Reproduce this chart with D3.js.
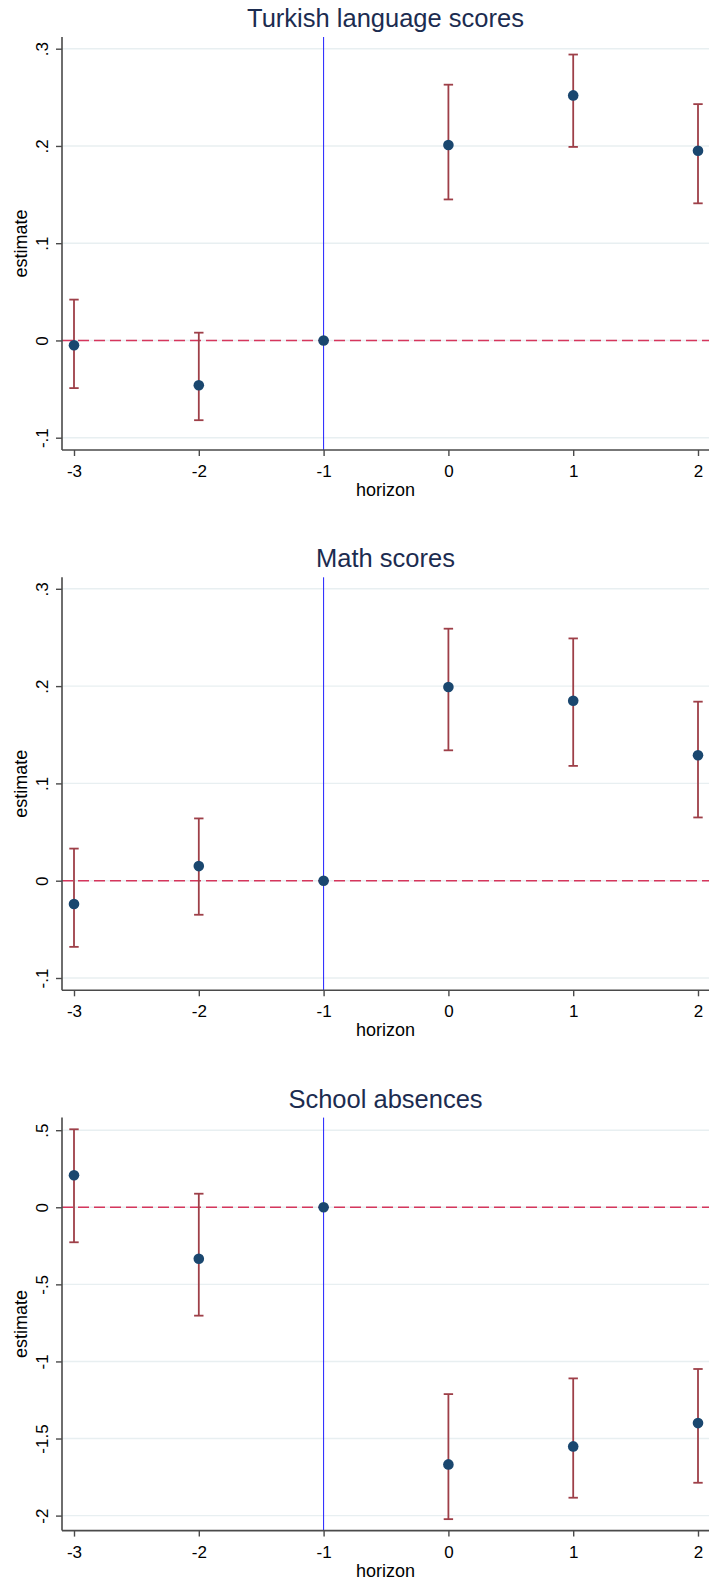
<!DOCTYPE html>
<html>
<head>
<meta charset="utf-8">
<script src="https://cdn.jsdelivr.net/npm/d3@7"></script>
<style>
  body { margin: 0; background: #fff; }
  svg { display: block; font-family: "Liberation Sans", Arial, sans-serif; }
</style>
</head>
<body>
<svg id="chart" width="709" height="1585"></svg>
<script>
// event-study estimates
const horizons = [-3, -2, -1, 0, 1, 2];

const turkishEst = [-0.005, -0.046, 0, 0.201, 0.252, 0.195];
const turkishLo  = [-0.049, -0.082, null, 0.145, 0.199, 0.141];
const turkishHi  = [0.042, 0.008, null, 0.263, 0.294, 0.243];

const mathEst = [-0.024, 0.015, 0, 0.199, 0.185, 0.129];
const mathLo  = [-0.068, -0.035, null, 0.134, 0.118, 0.065];
const mathHi  = [0.033, 0.064, null, 0.259, 0.249, 0.184];

const absEst = [0.208, -0.334, 0, -1.668, -1.551, -1.400];
const absLo  = [-0.227, -0.703, null, -2.023, -1.884, -1.787];
const absHi  = [0.506, 0.088, null, -1.212, -1.110, -1.049];

const scoreTicks = [-0.1, 0, 0.1, 0.2, 0.3];
const scoreTickLabels = ['-.1', '0', '.1', '.2', '.3'];
const absTicks = [-2, -1.5, -1, -0.5, 0, 0.5];
const absTickLabels = ['-2', '-1.5', '-1', '-.5', '0', '.5'];

const panels = [
  { title: 'Turkish language scores', est: turkishEst, lo: turkishLo, hi: turkishHi, ticks: scoreTicks, labels: scoreTickLabels },
  { title: 'Math scores', est: mathEst, lo: mathLo, hi: mathHi, ticks: scoreTicks, labels: scoreTickLabels },
  { title: 'School absences', est: absEst, lo: absLo, hi: absHi, ticks: absTicks, labels: absTickLabels }
];

// layout
const panelH = 540.3;
const plotLeft = 62, plotRight = 709;
const plotTop = 37, plotBottom = 450;
const tickRange = [[437.7, 48.7], [437.7, 48.5], [435, 49.6]];

const col = {
  title: '#1c2c50',
  grid: '#e8eff1',
  zero: '#d6365c',
  vline: '#1f1fff',
  bar: '#9e3f48',
  dot: '#1a476f',
  axis: '#4a4a4a'
};

const svg = d3.select('#chart');

const x = d3.scaleLinear()
  .domain([d3.min(horizons), d3.max(horizons)])
  .range([74, 698]);

panels.forEach((p, i) => {
  const g = svg.append('g')
    .attr('transform', `translate(0,${i * panelH})`);

  const y = d3.scaleLinear()
    .domain([d3.min(p.ticks), d3.max(p.ticks)])
    .range(tickRange[i]);

  // gridlines
  g.append('g')
    .selectAll('line')
    .data(p.ticks)
    .enter()
    .append('line')
      .attr('x1', plotLeft)
      .attr('x2', plotRight)
      .attr('y1', d => y(d))
      .attr('y2', d => y(d))
      .attr('stroke', col.grid)
      .attr('stroke-width', 1.4);

  // zero reference line
  g.append('line')
    .attr('x1', plotLeft).attr('x2', plotRight)
    .attr('y1', y(0)).attr('y2', y(0))
    .attr('stroke', col.zero)
    .attr('stroke-width', 1.4)
    .attr('stroke-dasharray', '11,5');

  // event time marker at -1
  g.append('line')
    .attr('x1', x(-1)).attr('x2', x(-1))
    .attr('y1', plotTop).attr('y2', plotBottom)
    .attr('stroke', col.vline)
    .attr('stroke-width', 1);

  const rows = horizons.map((h, j) => ({ h, est: p.est[j], lo: p.lo[j], hi: p.hi[j] }));
  const ci = rows.filter(d => d.lo !== null);

  const bars = g.append('g')
    .attr('stroke', col.bar)
    .attr('stroke-width', 1.8)
    .selectAll('g')
    .data(ci)
    .enter()
    .append('g');

  bars.append('line')
    .attr('x1', d => x(d.h)).attr('x2', d => x(d.h))
    .attr('y1', d => y(d.lo)).attr('y2', d => y(d.hi));
  bars.append('line')
    .attr('x1', d => x(d.h) - 4.7).attr('x2', d => x(d.h) + 4.7)
    .attr('y1', d => y(d.lo)).attr('y2', d => y(d.lo));
  bars.append('line')
    .attr('x1', d => x(d.h) - 4.7).attr('x2', d => x(d.h) + 4.7)
    .attr('y1', d => y(d.hi)).attr('y2', d => y(d.hi));

  g.append('g')
    .selectAll('circle')
    .data(rows)
    .enter()
    .append('circle')
      .attr('cx', d => x(d.h))
      .attr('cy', d => y(d.est))
      .attr('r', 5.3)
      .attr('fill', col.dot);

  // y axis
  const yAxis = g.append('g')
    .attr('transform', `translate(${plotLeft},0)`)
    .call(d3.axisLeft(y)
      .tickValues(p.ticks)
      .tickFormat((d, k) => p.labels[k])
      .tickSize(6)
      .tickSizeOuter(0));
  yAxis.select('.domain').remove();
  yAxis.selectAll('.tick line').attr('stroke', col.axis).attr('stroke-width', 1.4);
  yAxis.selectAll('.tick text')
    .attr('x', 0)
    .attr('y', -14.5)
    .attr('dy', null)
    .attr('transform', 'rotate(-90)')
    .attr('text-anchor', 'middle')
    .attr('fill', '#000')
    .style('font-size', '17px');
  g.append('line')
    .attr('x1', plotLeft).attr('x2', plotLeft)
    .attr('y1', plotTop).attr('y2', plotBottom)
    .attr('stroke', col.axis)
    .attr('stroke-width', 1.6);

  // x axis (plain hyphen minus, like the original)
  const xAxis = g.append('g')
    .attr('transform', `translate(0,${plotBottom})`)
    .call(d3.axisBottom(x)
      .tickValues(horizons)
      .tickFormat(d => String(d))
      .tickSize(6)
      .tickSizeOuter(0));
  xAxis.select('.domain').remove();
  xAxis.selectAll('.tick line').attr('stroke', col.axis).attr('stroke-width', 1.4);
  xAxis.selectAll('.tick text')
    .attr('y', 27)
    .attr('dy', null)
    .attr('fill', '#000')
    .style('font-size', '17px');
  g.append('line')
    .attr('x1', plotLeft).attr('x2', plotRight)
    .attr('y1', plotBottom).attr('y2', plotBottom)
    .attr('stroke', col.axis)
    .attr('stroke-width', 1.6);

  // titles
  g.append('text')
    .attr('x', (plotLeft + plotRight) / 2)
    .attr('y', 27)
    .attr('text-anchor', 'middle')
    .attr('fill', col.title)
    .style('font-size', '25.5px')
    .text(p.title);

  g.append('text')
    .attr('x', (plotLeft + plotRight) / 2)
    .attr('y', 496)
    .attr('text-anchor', 'middle')
    .attr('fill', '#000')
    .style('font-size', '18px')
    .text('horizon');

  g.append('text')
    .attr('transform', `translate(27,${(plotTop + plotBottom) / 2}) rotate(-90)`)
    .attr('text-anchor', 'middle')
    .attr('fill', '#000')
    .style('font-size', '18px')
    .text('estimate');
});
</script>
</body>
</html>
